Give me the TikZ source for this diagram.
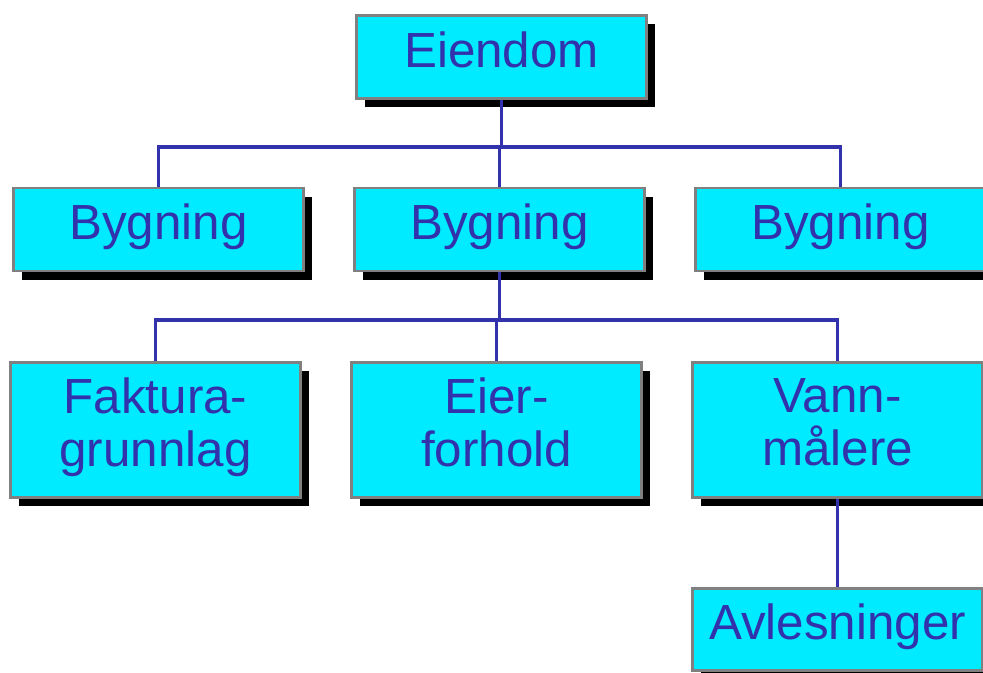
\documentclass[tikz,border=0pt]{standalone}
\usepackage{fontspec}
\setmainfont{Liberation Sans}
\usetikzlibrary{shadows}
\definecolor{boxfill}{RGB}{0,235,255}
\definecolor{inkblue}{RGB}{50,50,172}
\definecolor{rimgray}{RGB}{128,128,128}
\tikzset{
  entity/.style={draw=rimgray, line width=2.2pt, fill=boxfill,
    text=inkblue, align=center, minimum width=217.5pt, minimum height=62.25pt,
    inner sep=0pt, text depth=11.25pt,
    font=\fontsize{37}{39.75}\selectfont,
    drop shadow={shadow xshift=6.5pt, shadow yshift=-6.5pt, fill=black, opacity=1}},
  tallentity/.style={entity, minimum height=101.25pt},
  link/.style={draw=inkblue, line width=2.3pt}
}
\begin{document}
\begin{tikzpicture}[x=0.75pt, y=-0.75pt]
  \useasboundingbox[fill=white] (0,0) rectangle (983,673);

  % junction heights of the two bus lines
  \coordinate (busA) at (501,147);
  \coordinate (busB) at (499,320);

  % top level
  \node[entity] (eien) at (501.5,57) {Eiendom};

  % buildings
  \node[entity] (byg1) at (158.5,229.5) {Bygning};
  \node[entity] (byg2) at (499.5,229.5) {Bygning};
  \node[entity] (byg3) at (840.5,229.5) {Bygning};

  % details of a building
  \node[tallentity] (fakt) at (155.5,430) {Faktura-\\grunnlag};
  \node[tallentity] (eier) at (496.5,430) {Eier-\\forhold};
  \node[tallentity] (vann) at (837.5,430) {Vann-\\målere};

  % readings
  \node[entity, minimum height=61.5pt] (avl) at (837.5,629.5) {Avlesninger};

  % property to buildings
  \draw[link] (eien.south) -- (eien.south |- busA);
  \draw[link] (byg1.north) |- (busA) -| (byg3.north);
  \draw[link] (byg2.north) -- (byg2.north |- busA);

  % building to its details
  \draw[link] (byg2.south) -- (byg2.south |- busB);
  \draw[link] (fakt.north) |- (busB) -| (vann.north);
  \draw[link] (eier.north) -- (eier.north |- busB);

  % meters to readings
  \draw[link] (vann.south) -- (avl.north);
\end{tikzpicture}
\end{document}
